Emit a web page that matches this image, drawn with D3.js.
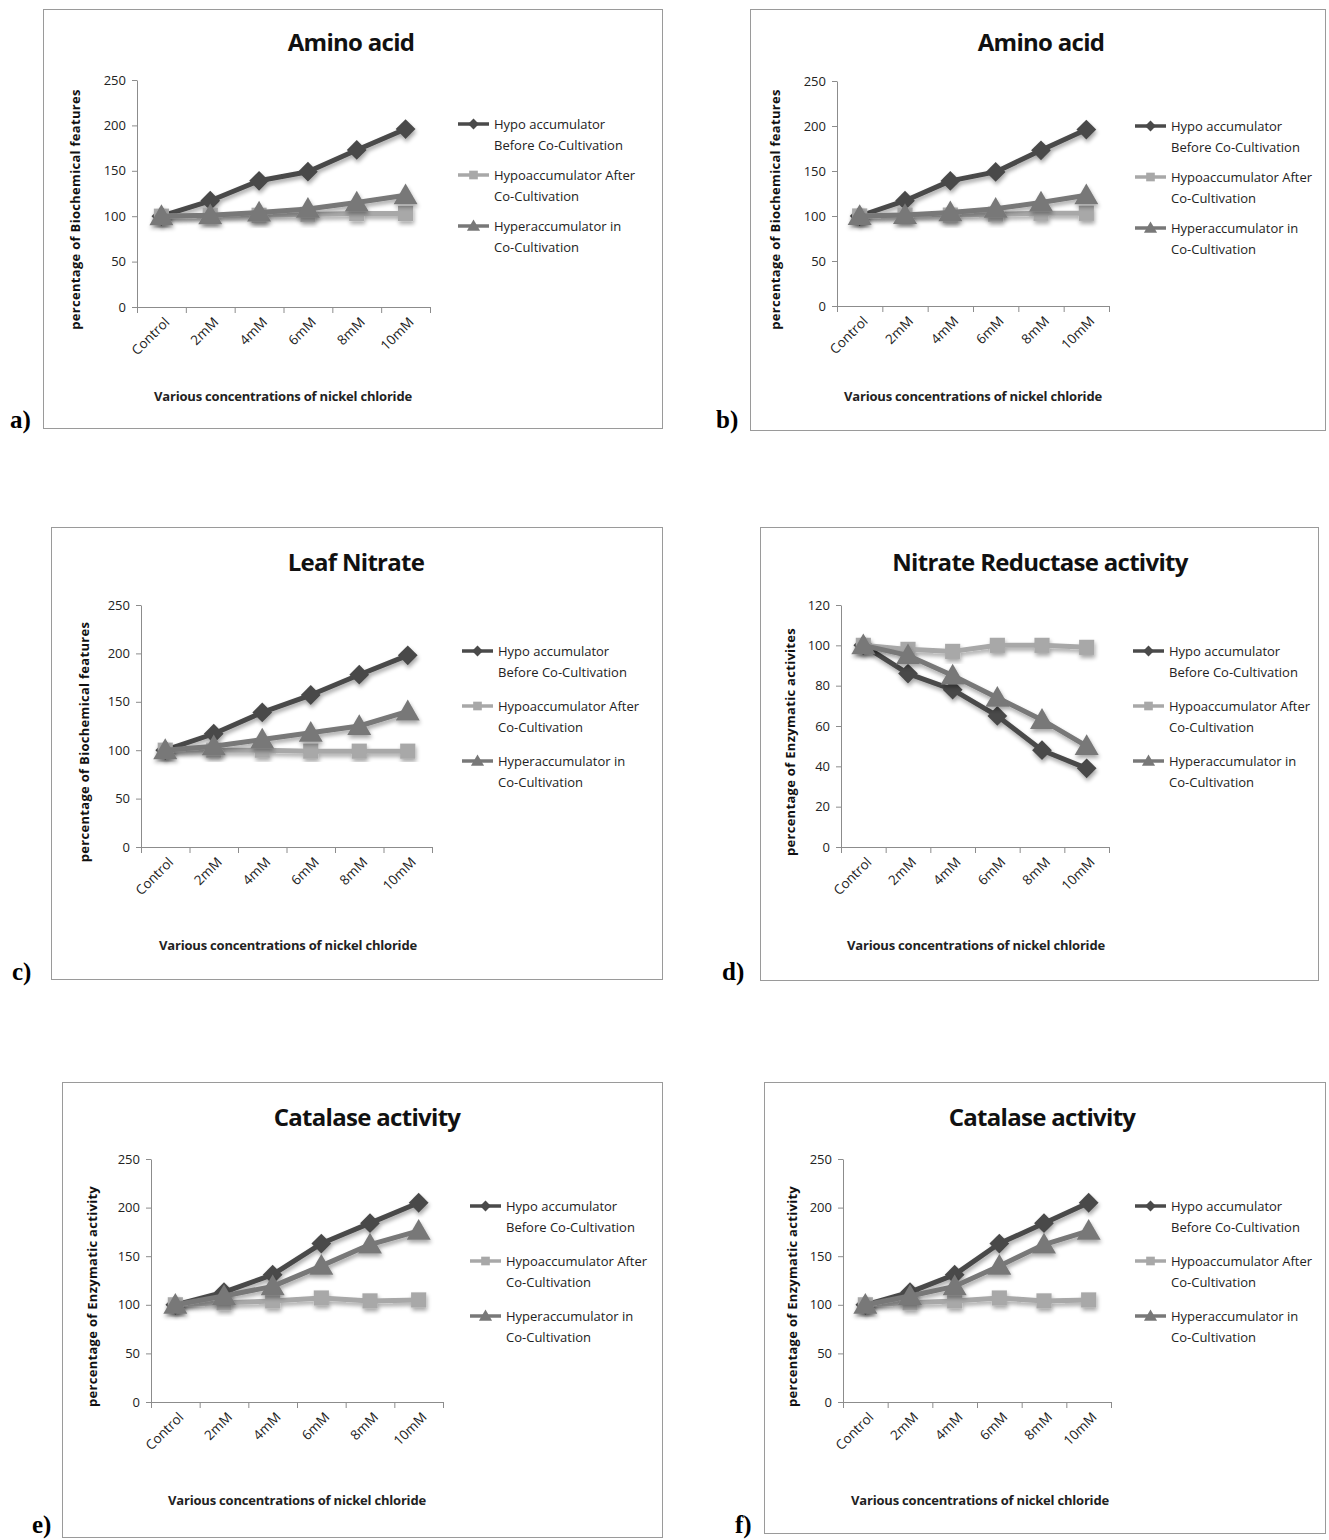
<!DOCTYPE html>
<html>
<head>
<meta charset="utf-8">
<title>Nickel chloride panels</title>
<script src="https://d3js.org/d3.v7.min.js"></script>
<style>
  body { margin: 0; background: #fff; }
  svg { display: block; }
  text { font-family: "Open Sans", sans-serif; }
</style>
</head>
<body>
<script>
// categories and legend names
const categories = ["Control", "2mM", "4mM", "6mM", "8mM", "10mM"];
const seriesNames = [
  ["Hypo accumulator", "Before Co-Cultivation"],
  ["Hypoaccumulator After", "Co-Cultivation"],
  ["Hyperaccumulator in", "Co-Cultivation"]
];

// amino acid (a and b are the same chart)
const aminoBefore = [100, 117, 139, 149, 173, 196];
const aminoAfter  = [100, 101, 101, 102, 103, 103];
const aminoHyper  = [100, 101, 104, 108, 115, 123];

// leaf nitrate
const nitrateBefore = [100, 117, 139, 157, 178, 198];
const nitrateAfter  = [100, 100, 100, 99, 99, 99];
const nitrateHyper  = [100, 104, 111, 118, 125, 140];

// nitrate reductase
const nrBefore = [100, 86, 78, 65, 48, 39];
const nrAfter  = [100, 98, 97, 100, 100, 99];
const nrHyper  = [100, 95, 85, 74, 63, 50];

// catalase (e and f are the same chart)
const catBefore = [100, 113, 131, 163, 184, 205];
const catAfter  = [100, 102, 104, 107, 104, 105];
const catHyper  = [100, 109, 119, 140, 162, 176];

const ticks250 = [0, 50, 100, 150, 200, 250];
const ticks120 = [0, 20, 40, 60, 80, 100, 120];

const xTitle = "Various concentrations of nickel chloride";

const colors = ["#4a4a4a", "#a8a8a8", "#787878"];
const shapes = [d3.symbolDiamond2, d3.symbolSquare, d3.symbolTriangle];

const W = 1329, H = 1540;
const svg = d3.select("body").append("svg").attr("width", W).attr("height", H);

const defs = svg.append("defs");
const f = defs.append("filter").attr("id", "shadow")
  .attr("x", "-20%").attr("y", "-20%").attr("width", "140%").attr("height", "140%");
f.append("feGaussianBlur").attr("in", "SourceAlpha").attr("stdDeviation", 2).attr("result", "b");
f.append("feOffset").attr("in", "b").attr("dx", 1).attr("dy", 3).attr("result", "o");
f.append("feComponentTransfer").attr("in", "o").attr("result", "s")
  .append("feFuncA").attr("type", "linear").attr("slope", 0.35);
const fm = f.append("feMerge");
fm.append("feMergeNode").attr("in", "s");
fm.append("feMergeNode").attr("in", "SourceGraphic");

// panel geometry (frame, plot area, text spots)
const panels = [
  { tag: "a)", tagX: 10, tagY: 428, frame: [43, 9, 662, 428], x0: 137, x1: 430, yTop: 80, yBot: 307,
    title: "Amino acid", titleX: 351, titleY: 51, yLab: "percentage of Biochemical features", yLabX: 80,
    xLabX: 283, xLabY: 401, legX: 458, legY: 124, legStep: 51,
    ticks: ticks250, series: [aminoBefore, aminoAfter, aminoHyper] },
  { tag: "b)", tagX: 716, tagY: 428, frame: [750, 9, 1325, 430], x0: 837, x1: 1109, yTop: 81, yBot: 306,
    title: "Amino acid", titleX: 1041, titleY: 51, yLab: "percentage of Biochemical features", yLabX: 780,
    xLabX: 973, xLabY: 401, legX: 1135, legY: 126, legStep: 51,
    ticks: ticks250, series: [aminoBefore, aminoAfter, aminoHyper] },
  { tag: "c)", tagX: 12, tagY: 980, frame: [51, 527, 662, 979], x0: 141, x1: 432, yTop: 605, yBot: 847,
    title: "Leaf Nitrate", titleX: 356, titleY: 571, yLab: "percentage of Biochemical features", yLabX: 89,
    xLabX: 288, xLabY: 950, legX: 462, legY: 651, legStep: 55,
    ticks: ticks250, series: [nitrateBefore, nitrateAfter, nitrateHyper] },
  { tag: "d)", tagX: 722, tagY: 980, frame: [760, 527, 1318, 980], x0: 841, x1: 1109, yTop: 605, yBot: 847,
    title: "Nitrate Reductase activity", titleX: 1040, titleY: 571, yLab: "percentage of Enzymatic activites", yLabX: 795,
    xLabX: 976, xLabY: 950, legX: 1133, legY: 651, legStep: 55,
    ticks: ticks120, series: [nrBefore, nrAfter, nrHyper] },
  { tag: "e)", tagX: 32, tagY: 1533, frame: [62, 1082, 662, 1537], x0: 151, x1: 443, yTop: 1159, yBot: 1402,
    title: "Catalase activity", titleX: 367, titleY: 1126, yLab: "percentage of Enzymatic activity", yLabX: 97,
    xLabX: 297, xLabY: 1505, legX: 470, legY: 1206, legStep: 55,
    ticks: ticks250, series: [catBefore, catAfter, catHyper] },
  { tag: "f)", tagX: 735, tagY: 1533, frame: [764, 1082, 1325, 1533], x0: 843, x1: 1111, yTop: 1159, yBot: 1402,
    title: "Catalase activity", titleX: 1042, titleY: 1126, yLab: "percentage of Enzymatic activity", yLabX: 797,
    xLabX: 980, xLabY: 1505, legX: 1135, legY: 1206, legStep: 55,
    ticks: ticks250, series: [catBefore, catAfter, catHyper] }
];

panels.forEach(p => {
  const g = svg.append("g");
  const [fx0, fy0, fx1, fy1] = p.frame;

  g.append("rect").attr("x", fx0 + 0.5).attr("y", fy0 + 0.5)
    .attr("width", fx1 - fx0).attr("height", fy1 - fy0)
    .attr("fill", "none").attr("stroke", "#9a9a9a").attr("stroke-width", 1);

  g.append("text").attr("x", p.tagX).attr("y", p.tagY)
    .style("font-family", "'Liberation Serif', serif").style("font-weight", "bold")
    .style("font-size", "25px").attr("fill", "#000").text(p.tag);

  const x = d3.scaleBand().domain(categories).range([p.x0, p.x1]).padding(0);
  const xEdges = d3.scaleLinear().domain([0, categories.length]).range([p.x0, p.x1]);
  const yMax = p.ticks[p.ticks.length - 1];
  const y = d3.scaleLinear().domain([0, yMax]).range([p.yBot, p.yTop]);
  const cx = d => x(d) + x.bandwidth() / 2;

  // y axis
  const ya = g.append("g").attr("transform", `translate(${p.x0},0)`)
    .call(d3.axisLeft(y).tickValues(p.ticks).tickSize(5).tickSizeOuter(0).tickPadding(6));
  ya.select(".domain").attr("stroke", "#8c8c8c");
  ya.selectAll(".tick line").attr("stroke", "#8c8c8c");
  ya.selectAll(".tick text").style("font-size", "13px").attr("fill", "#222")
    .style("font-family", "'Open Sans', sans-serif");

  // x axis: ticks at category edges
  const xa = g.append("g").attr("transform", `translate(0,${p.yBot})`)
    .call(d3.axisBottom(xEdges).tickValues(d3.range(categories.length + 1)).tickFormat("").tickSize(6).tickSizeOuter(0));
  xa.select(".domain").attr("stroke", "#8c8c8c");
  xa.selectAll(".tick line").attr("stroke", "#8c8c8c");

  // rotated category labels
  const xl = g.append("g").attr("transform", `translate(0,${p.yBot})`)
    .call(d3.axisBottom(x).tickSize(0).tickPadding(0));
  xl.select(".domain").remove();
  xl.selectAll(".tick text")
    .style("font-size", "13.5px").attr("fill", "#222")
    .style("font-family", "'Open Sans', sans-serif")
    .attr("text-anchor", "end").attr("dy", 0)
    .attr("transform", "translate(9,16) rotate(-45)");

  // titles
  g.append("text").attr("x", p.titleX).attr("y", p.titleY).attr("text-anchor", "middle")
    .style("font-size", "24px").style("font-weight", "bold").style("letter-spacing", "-0.7px")
    .attr("fill", "#111").text(p.title);

  g.append("text").attr("x", p.xLabX).attr("y", p.xLabY).attr("text-anchor", "middle")
    .style("font-size", "13px").style("font-weight", "bold").style("letter-spacing", "-0.2px")
    .attr("fill", "#222").text(xTitle);

  g.append("text")
    .attr("transform", `translate(${p.yLabX},${(p.yTop + p.yBot) / 2 + 16}) rotate(-90)`)
    .attr("text-anchor", "middle")
    .style("font-size", "13px").style("font-weight", "bold").style("letter-spacing", "0.3px")
    .attr("fill", "#111").text(p.yLab);

  // series
  const line = d3.line().x((d, i) => cx(categories[i])).y(d => y(d));
  p.series.forEach((vals, k) => {
    const sg = g.append("g").attr("filter", "url(#shadow)");
    sg.append("path").datum(vals).attr("d", line)
      .attr("fill", "none").attr("stroke", colors[k]).attr("stroke-width", 5)
      .attr("stroke-linejoin", "round");
    sg.selectAll("path.m").data(vals).join("path").attr("class", "m")
      .attr("transform", (d, i) => `translate(${cx(categories[i])},${y(d) + (k === 2 ? 2 : 0)})`)
      .attr("d", d3.symbol().type(shapes[k]).size(k === 1 ? 230 : 250))
      .attr("fill", colors[k]);
  });

  // legend
  seriesNames.forEach((nm, k) => {
    const ly = p.legY + k * p.legStep;
    const lg = g.append("g");
    lg.append("line").attr("x1", p.legX).attr("x2", p.legX + 31).attr("y1", ly).attr("y2", ly)
      .attr("stroke", colors[k]).attr("stroke-width", 3.5);
    lg.append("path").attr("transform", `translate(${p.legX + 15.5},${ly + (k === 2 ? 1 : 0)})`)
      .attr("d", d3.symbol().type(shapes[k]).size(75)).attr("fill", colors[k]);
    lg.selectAll("text").data(nm).join("text")
      .attr("x", p.legX + 36).attr("y", (d, i) => ly + 5 + i * 21)
      .style("font-size", "13px").attr("fill", "#222").text(d => d);
  });
});
</script>
</body>
</html>
